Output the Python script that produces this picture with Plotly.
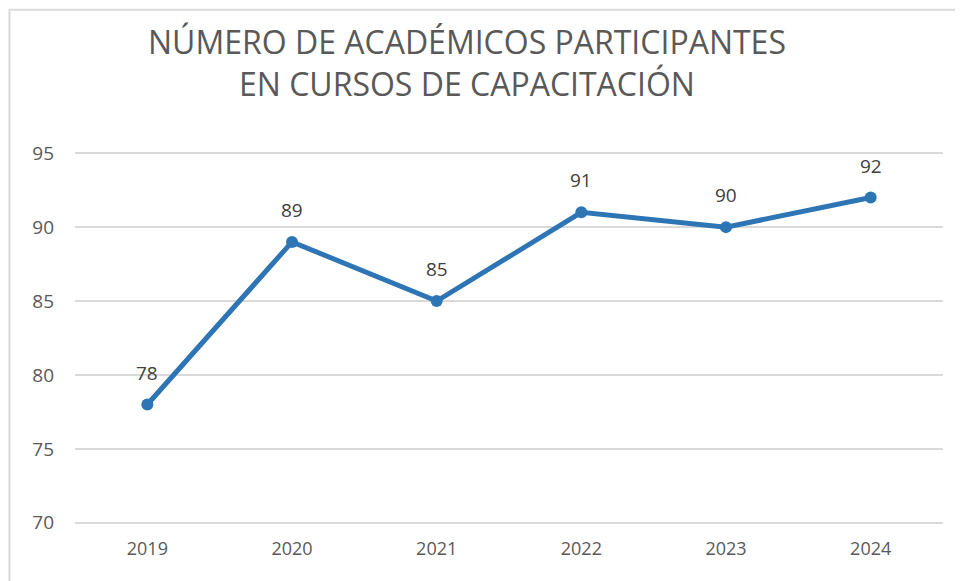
import plotly.graph_objects as go

years = ["2019", "2020", "2021", "2022", "2023", "2024"]
values = [78, 89, 85, 91, 90, 92]
y_ticks = [70, 75, 80, 85, 90, 95]
title_lines = ["NÚMERO DE ACADÉMICOS PARTICIPANTES", "EN CURSOS DE CAPACITACIÓN"]

FONT = "Open Sans, sans-serif"
x_pos = list(range(len(years)))

fig = go.Figure()
fig.add_trace(go.Scatter(
    x=x_pos, y=values, mode="lines+markers",
    line=dict(color="#2E75B6", width=5),
    marker=dict(color="#2E75B6", size=12),
    hoverinfo="skip", showlegend=False,
))

for xv, yv in zip(x_pos, values):
    fig.add_annotation(x=xv, y=yv, text=str(yv), showarrow=False,
                       yshift=32, font=dict(family=FONT, size=19, color="#404040"))

fig.add_annotation(xref="paper", yref="paper", x=0.4517, y=1.0, yshift=86.5 + 2.2,
                   text="<br>".join(title_lines), showarrow=False,
                   xanchor="center", yanchor="middle",
                   font=dict(family=FONT, size=32, color="#595959"))

fig.add_shape(type="rect", xref="paper", yref="paper",
              x0=-0.0755, x1=1.05, y0=-0.3, y1=1.378,
              line=dict(color="#D9D9D9", width=2))

fig.update_layout(
    width=955, height=573,
    margin=dict(l=66.6, r=19.6, t=142.8, b=55.8),
    paper_bgcolor="white", plot_bgcolor="white",
    font=dict(family=FONT, color="#595959"),
    xaxis=dict(range=[-0.5, 5.5], tickvals=x_pos, ticktext=years,
               showgrid=False, showline=False, ticks="", zeroline=False,
               tickfont=dict(size=18, color="#595959"), ticklabelstandoff=11),
    yaxis=dict(range=[69.85, 95.15], tickvals=y_ticks, showgrid=True,
               gridcolor="#D9D9D9", gridwidth=2, zeroline=False,
               showline=False, ticks="", ticklabelstandoff=20,
               tickfont=dict(size=19, color="#595959")),
)

fig.write_html("out.html")
